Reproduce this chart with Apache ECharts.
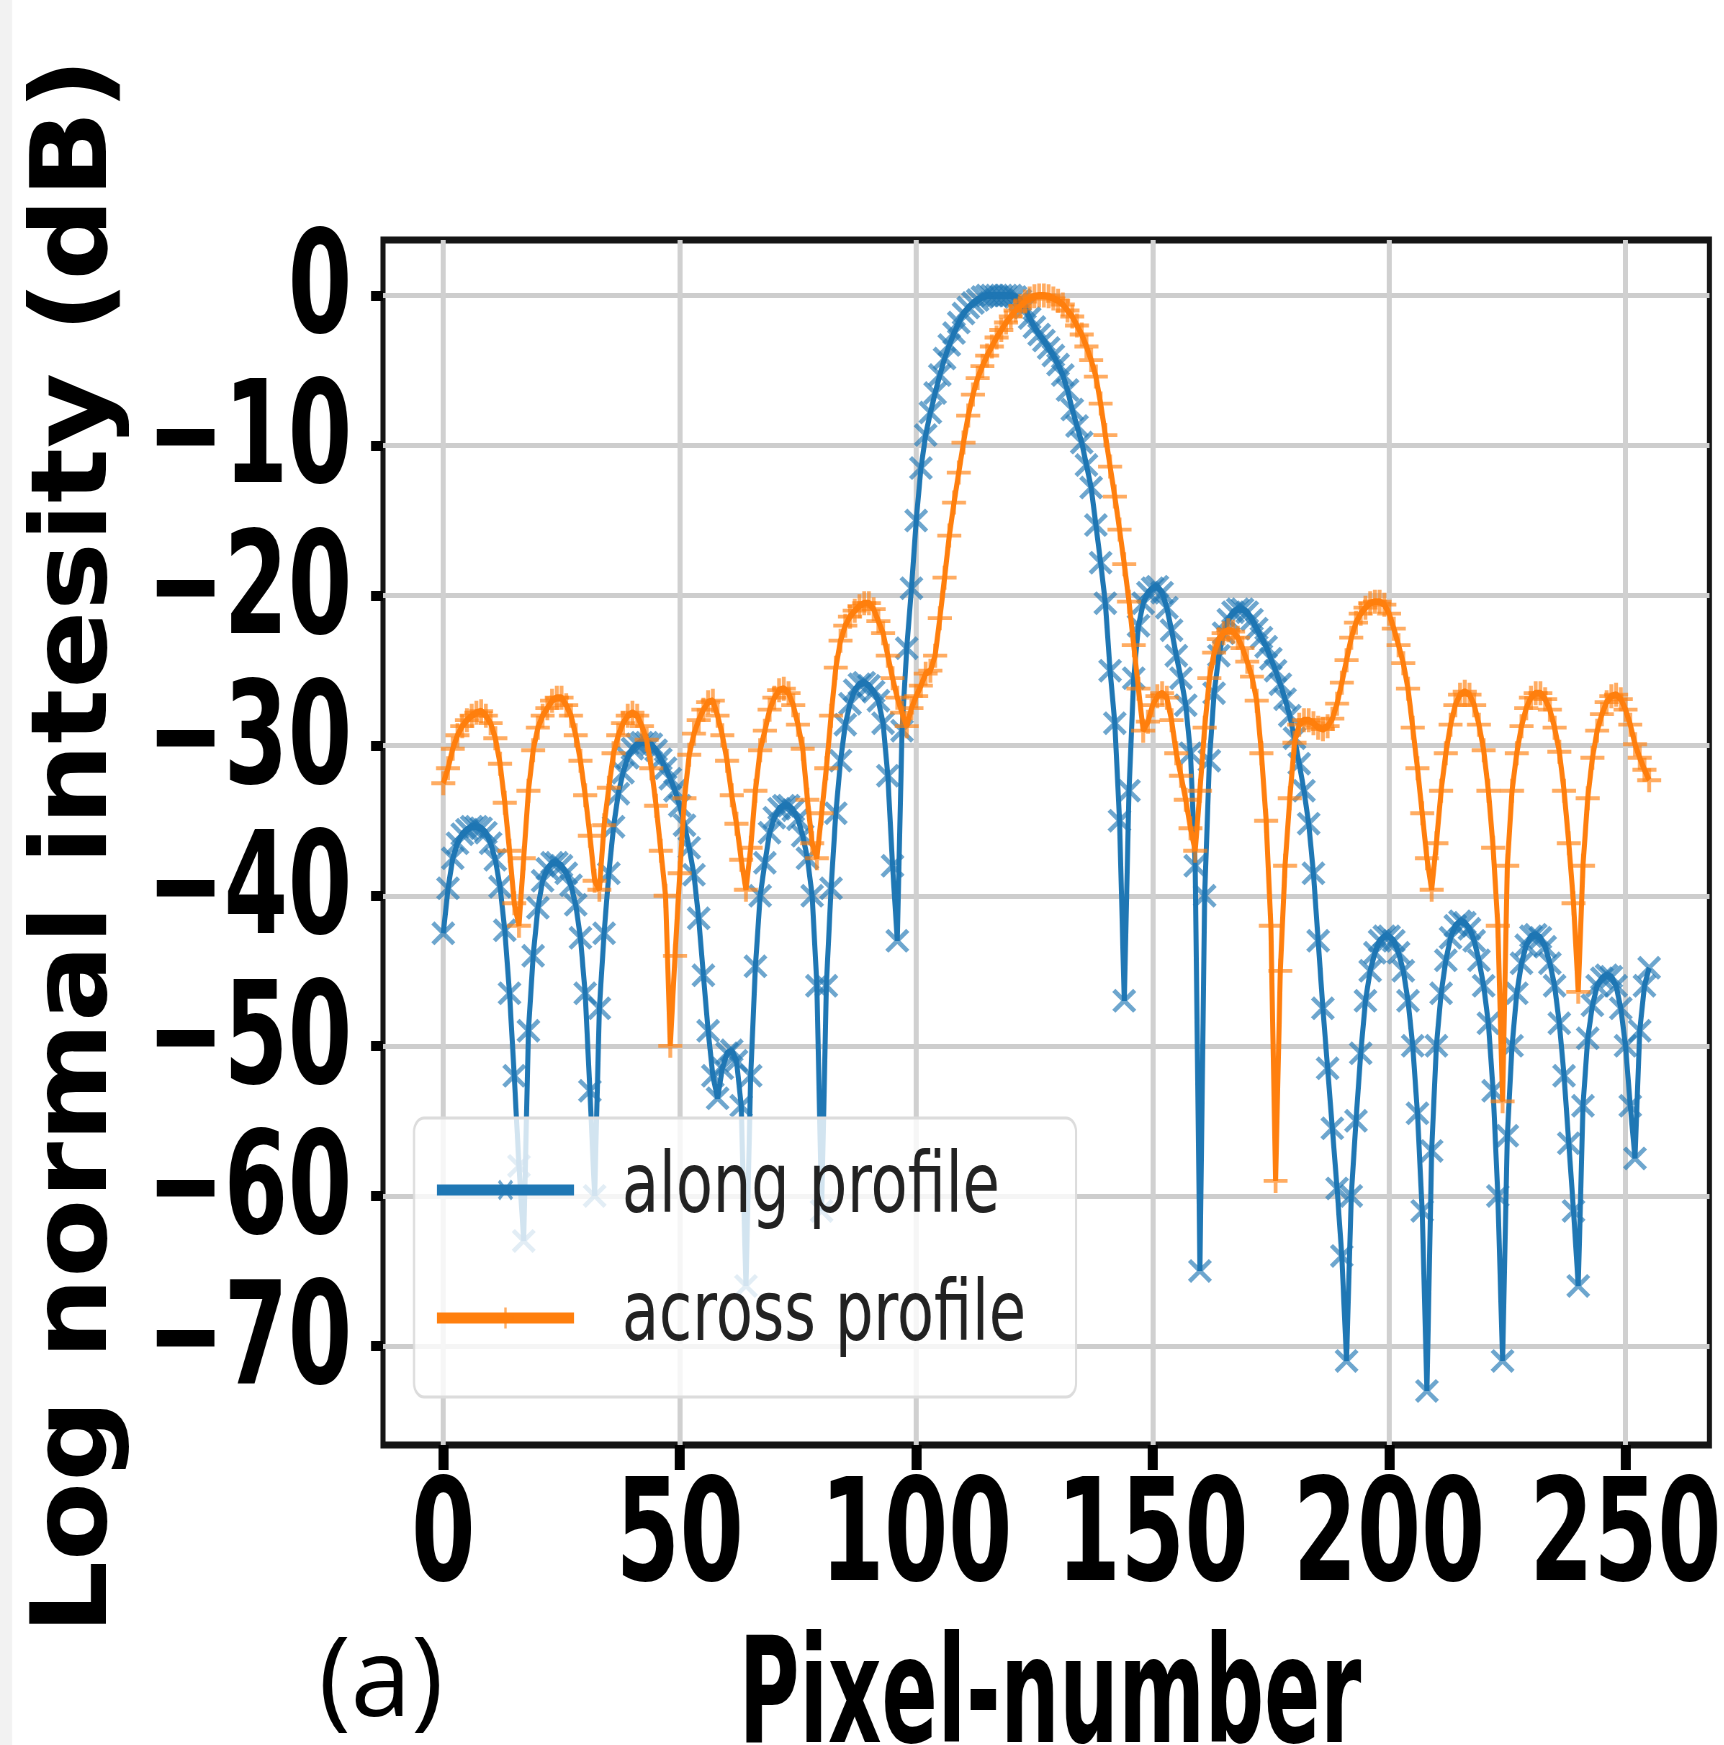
<!DOCTYPE html>
<html>
<head>
<meta charset="utf-8">
<script src="https://cdn.jsdelivr.net/npm/echarts@6/dist/echarts.min.js"></script>
<style>
  html, body { margin: 0; padding: 0; background: #fff; overflow: hidden; }
  #chart { height: 1745px; transform-origin: 0 0; }
</style>
</head>
<body>
<div id="chart"></div>
<script>
// log intensity (dB) per pixel
const along = [
  -42.5, -39.5, -37.5, -36.5, -35.9, -35.6, -35.4, -35.4, -35.5, -35.8,
  -36.5, -37.6, -39.4, -42.3, -46.5, -52, -58, -63, -49, -44,
  -40.8, -39, -38.2, -37.8, -37.8, -38, -38.5, -39.3, -40.6, -42.8,
  -46.5, -53, -60, -47.5, -42.5, -38.5, -35.4, -33.2, -31.8, -30.8,
  -30.2, -29.9, -29.8, -29.8, -29.9, -30.3, -30.9, -31.5, -32.2, -33,
  -34, -35.3, -36.8, -38.6, -41.5, -45.3, -49, -52, -53.5, -51.5,
  -50.5, -50.3, -51, -54, -66, -52, -44.7, -40, -37.8, -35.8,
  -34.8, -34.2, -34, -34, -34.3, -34.9, -36, -37.5, -40, -46,
  -61, -46, -39.5, -34.5, -31, -28.6, -27.2, -26.3, -25.9, -25.8,
  -26, -26.4, -27, -28.5, -32, -38, -43, -29, -23.5, -19.5,
  -15, -11.5, -9.3, -7.8, -6.5, -5.3, -4.2, -3.3, -2.5, -1.8,
  -1.2, -0.8, -0.5, -0.3, -0.1, 0, 0, 0, 0, 0,
  0, -0.1, -0.3, -0.8, -1.5, -2.1, -2.6, -3, -3.5, -4,
  -4.6, -5.3, -6.3, -7.6, -8.7, -9.8, -11.3, -12.8, -15.3, -17.8,
  -20.5, -25, -28.5, -35, -47, -33, -25.5, -22, -20.5, -19.8,
  -19.5, -19.4, -19.8, -20.8, -22.3, -24, -25.5, -27.3, -30.5, -38,
  -65, -40, -31, -26.5, -24, -22.5, -21.6, -21.1, -20.9, -20.9,
  -21.1, -21.6, -22.2, -22.8, -23.4, -24.2, -25, -25.9, -26.9, -28,
  -29.5, -31.2, -33, -35.2, -38.5, -43, -47.5, -51.5, -55.5, -59.5,
  -64, -71, -60, -55, -50.5, -47, -45, -43.8, -43, -42.7,
  -42.7, -43, -43.8, -45, -47, -50, -54.5, -61, -73, -57,
  -50, -46.5, -44.3, -42.8, -42, -41.7, -41.8, -42.2, -43, -44.3,
  -46, -48.5, -53, -60, -71, -56, -50, -46.5, -44.5, -43.3,
  -42.7, -42.6, -42.8, -43.4, -44.5, -46, -48.5, -52, -56.5, -61,
  -66, -54, -49.5, -47.3, -46, -45.5, -45.3, -45.4, -46, -47.5,
  -50, -54, -57.5, -49, -46, -44.8
];
const across = [
  -32.5, -31.5, -30.2, -29.3, -28.7, -28.3, -28, -27.8, -27.7, -28,
  -28.5, -29.5, -31.2, -33.8, -37, -40.5, -42, -37.5, -33, -30.3,
  -28.8, -28, -27.5, -27, -26.8, -26.8, -27.3, -28, -29.3, -31,
  -33.3, -36, -39, -39.6, -35.3, -32.8, -30.5, -29.3, -28.5, -28,
  -27.8, -28, -28.7, -29.6, -31.5, -34, -37, -40, -50, -44,
  -38.5, -33.5, -30.6, -29.2, -28.3, -27.6, -27.1, -27, -28, -29.3,
  -31, -33.3, -35.2, -37.6, -39.6, -36.8, -33, -30.3, -29, -27.6,
  -26.8, -26.3, -26.2, -26.5, -27.3, -28.6, -30.2, -33.6, -36.5, -37.5,
  -34.5, -31.5, -28, -24.8, -23, -22, -21.4, -21, -20.7, -20.5,
  -20.5, -20.9, -21.7, -22.5, -24, -25.5, -26.8, -27.8, -28.7, -27.5,
  -26.7, -26, -25.2, -25, -24, -21.5, -18.8, -16, -13.8, -11.8,
  -9.8, -8, -6.6, -5.5, -4.7, -4, -3.4, -2.8, -2.3, -1.8,
  -1.4, -1, -0.7, -0.4, -0.2, -0.05, 0, 0, -0.05, -0.2,
  -0.35, -0.6, -1, -1.4, -2, -2.6, -3.4, -4.3, -5.4, -7.2,
  -9.3, -11.4, -13.4, -15.6, -17.9, -20.4, -23.3, -26.2, -29, -28.4,
  -27.3, -26.7, -26.5, -26.8, -28.3, -30.5, -32, -33.6, -35.5, -37,
  -33, -28.8, -25.5, -23.8, -22.9, -22.5, -22.3, -22.4, -22.8, -23.5,
  -24.4, -25.4, -27, -30.5, -35, -42, -59, -45, -38, -33.5,
  -29.8, -28.6, -28.3, -28.3, -28.5, -28.8, -28.9, -28.7, -28.2, -27.2,
  -25.8, -24.3, -22.8, -21.8, -21.2, -20.8, -20.5, -20.4, -20.4, -20.6,
  -21.2, -22.2, -23.3, -24.5, -26.2, -28.8, -31.5, -34.5, -37.5, -39.6,
  -36.5, -33, -30.5, -28.6, -27.3, -26.6, -26.4, -26.6, -27.3, -28.6,
  -30.3, -33, -36.8, -42, -53.7, -38, -33, -30.5, -28.7, -27.5,
  -26.8, -26.5, -26.5, -26.9, -27.6, -28.8, -30.4, -33, -36.5, -40.5,
  -46.4, -38, -33.5, -30.8, -29, -27.9, -27.1, -26.7, -26.6, -26.9,
  -27.6, -28.6, -29.9, -30.8, -31.6, -32.3
];
const pixels = along.map((_, i) => i);
const xTicks = [0, 50, 100, 150, 200, 250];
const yTicks = [-70, -60, -50, -40, -30, -20, -10, 0];

// the source figure is squeezed sideways; draw wide, then squeeze the page the same way
const S = 0.72;
const sx = v => v / S;
const el = document.getElementById('chart');
el.style.width = Math.round(1724 / S) + 'px';
el.style.transform = 'scaleX(' + S + ')';

// matplotlib-like 'x' and '+' markers
const xMark = 'path://M0,1.3L1.3,0L5,3.7L8.7,0L10,1.3L6.3,5L10,8.7L8.7,10L5,6.3L1.3,10L0,8.7L3.7,5Z';
const plusMark = 'path://M4.2,0H5.8V4.2H10V5.8H5.8V10H4.2V5.8H0V4.2H4.2Z';

const tickFont = "'DejaVu Sans Condensed', 'DejaVu Sans', sans-serif";
const tickLabel = {
  fontSize: 142, fontWeight: 'bold', fontFamily: tickFont, color: '#000',
  showMinLabel: true, showMaxLabel: true, hideOverlap: false
};

const chart = echarts.init(el, null, { renderer: 'canvas' });

chart.setOption({
  animation: false,
  backgroundColor: '#fff',
  grid: {
    left: sx(383), right: sx(10), top: 240, bottom: 300,
    show: true, borderColor: '#151515', borderWidth: 7
  },
  xAxis: {
    type: 'value',
    min: -12.75, max: 267.75,
    splitNumber: 5,
    axisLine: { show: false, onZero: false },
    axisTick: {
      show: true, customValues: xTicks, length: 25,
      lineStyle: { color: '#000', width: sx(10) }
    },
    axisLabel: Object.assign({ customValues: xTicks, margin: 27 }, tickLabel),
    splitLine: { show: true, lineStyle: { color: '#d0d0d0', width: sx(5) } }
  },
  yAxis: {
    type: 'value',
    min: -76.6, max: 3.7,
    splitNumber: 8,
    axisLine: { show: false, onZero: false },
    axisTick: {
      show: true, customValues: yTicks, length: sx(12),
      lineStyle: { color: '#000', width: 10 }
    },
    axisLabel: Object.assign({
      customValues: yTicks, margin: sx(31),
      formatter: v => (v < 0 ? '\u2212' + Math.abs(v) : String(v))
    }, tickLabel),
    splitLine: { show: true, lineStyle: { color: '#cdcdcd', width: 5 } }
  },
  legend: {
    orient: 'vertical',
    left: sx(414), top: 1118,
    data: ['along profile', 'across profile'],
    itemWidth: sx(137), itemHeight: 26, itemGap: 36,
    padding: [26, sx(50), 33, sx(19)],
    backgroundColor: 'rgba(255,255,255,0.8)',
    borderColor: '#dcdcdc', borderWidth: 3, borderRadius: 14,
    lineStyle: { width: 11 },
    textStyle: {
      fontFamily: "'DejaVu Sans', sans-serif", fontSize: 84, color: '#222',
      lineHeight: 92, padding: [0, 0, 0, sx(48) - 5]
    }
  },
  graphic: [
    { type: 'rect', left: 0, top: 0, shape: { width: sx(12), height: 1745 }, style: { fill: '#f2f2f2' }, silent: true },
    {
      type: 'text', x: sx(78), y: 846, rotation: Math.PI / 2, scaleY: 0.92 / S,
      style: {
        text: 'Log normal intesity (dB)', fill: '#000',
        font: "bold 115px 'DejaVu Sans'", align: 'center', verticalAlign: 'middle'
      }
    },
    {
      type: 'text', x: sx(1050), y: 1704, scaleX: 0.56 / S,
      style: {
        text: 'Pixel-number', fill: '#000',
        font: "bold 148px 'DejaVu Sans'", align: 'center', verticalAlign: 'middle'
      }
    },
    {
      type: 'text', x: sx(381), y: 1685, scaleX: 1 / S,
      style: {
        text: '(a)', fill: '#000',
        font: "109px 'Open Sans'", align: 'center', verticalAlign: 'middle'
      }
    }
  ],
  series: [
    {
      name: 'along profile',
      type: 'line',
      data: pixels.map((p, i) => [p, along[i]]),
      symbol: xMark, symbolSize: [sx(24), 24], showAllSymbol: true,
      lineStyle: { color: '#1f77b4', width: 7 },
      itemStyle: { color: '#1f77b4', opacity: 0.65 },
      z: 2
    },
    {
      name: 'across profile',
      type: 'line',
      data: pixels.map((p, i) => [p, across[i]]),
      symbol: plusMark, symbolSize: [sx(24), 24], showAllSymbol: true,
      lineStyle: { color: '#ff7f0e', width: 7 },
      itemStyle: { color: '#ff7f0e', opacity: 0.65 },
      z: 3
    }
  ]
});
</script>
</body>
</html>
